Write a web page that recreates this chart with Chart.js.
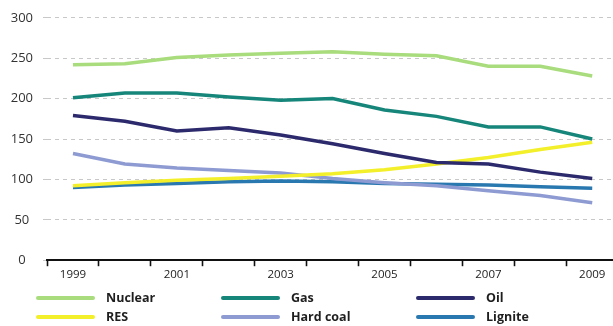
<!DOCTYPE html>
<html>
<head>
<meta charset="utf-8">
<script src="https://cdn.jsdelivr.net/npm/chart.js@4/dist/chart.umd.min.js"></script>
<style>
  html, body { margin: 0; padding: 0; background: #fff; }
  #wrap { width: 613px; height: 326px; position: relative; }
</style>
</head>
<body>
<div id="wrap"><canvas id="c" width="613" height="326"></canvas></div>
<script>
// Electricity generation by source, 1999-2009
const years = [1999, 2000, 2001, 2002, 2003, 2004, 2005, 2006, 2007, 2008, 2009];
const nuclear  = [242, 243, 251, 254, 256, 258, 255, 253, 240, 240, 228];
const gas      = [201, 207, 207, 202, 198, 200, 186, 178, 165, 165, 150];
const oil      = [179, 172, 160, 164, 155, 144, 132, 121, 119, 109, 101];
const res      = [92, 96, 99, 101, 104, 107, 112, 119, 127, 137, 146];
const hardCoal = [132, 119, 114, 111, 108, 101, 96, 92, 86, 80, 71];
const lignite  = [90, 93, 95, 97, 98, 97, 95, 94, 93, 91, 89];

const seriesNames = ['Nuclear', 'Gas', 'Oil', 'RES', 'Hard coal', 'Lignite'];
const seriesValues = [nuclear, gas, oil, res, hardCoal, lignite];
const seriesColors = ['#a9dc7c', '#16857a', '#2c2a6c', '#f3ef2b', '#8e9bd2', '#2a78b0'];

const yTickValues = [0, 50, 100, 150, 200, 250, 300];
const xLabelYears = [1999, 2001, 2003, 2005, 2007, 2009];

const datasets = seriesNames.map((name, i) => ({
  label: name,
  data: years.map((yr, j) => ({ x: yr, y: seriesValues[i][j] })),
  borderColor: seriesColors[i],
  backgroundColor: seriesColors[i],
  borderWidth: 3.5,
  pointRadius: 0,
  tension: 0,
  fill: false
}));

// Two-row legend with aligned columns under the plot
const gridLegend = {
  id: 'gridLegend',
  afterDraw(chart) {
    const ctx = chart.ctx;
    const colX = [38, 223, 418];
    const rowY = [298, 317];
    ctx.save();
    chart.data.datasets.forEach((ds, i) => {
      const col = i % 3, row = Math.floor(i / 3);
      const x = colX[col], y = rowY[row];
      ctx.strokeStyle = ds.borderColor;
      ctx.lineWidth = 4;
      ctx.lineCap = 'round';
      ctx.beginPath();
      ctx.moveTo(x, y);
      ctx.lineTo(x + 55, y);
      ctx.stroke();
      ctx.fillStyle = '#1e1e1e';
      ctx.font = 'bold 12.5px "Open Sans", sans-serif';
      ctx.textBaseline = 'middle';
      ctx.textAlign = 'left';
      ctx.fillText(ds.label, x + 68, y);
    });
    ctx.restore();
  }
};

new Chart(document.getElementById('c'), {
  type: 'line',
  data: { datasets },
  options: {
    responsive: false,
    animation: false,
    devicePixelRatio: 1,
    layout: { padding: { top: 16, left: 0, right: 0, bottom: 42 } },
    plugins: {
      legend: { display: false },
      tooltip: { enabled: false }
    },
    scales: {
      x: {
        type: 'linear',
        min: 1998.5,
        max: 2009.4,
        afterBuildTicks(scale) {
          const t = [];
          for (let v = 1998.5; v <= 2009.01; v += 0.5) t.push({ value: v });
          scale.ticks = t;
        },
        border: { display: true, color: '#111', width: 2 },
        grid: {
          drawOnChartArea: false,
          drawTicks: true,
          tickLength: 6,
          tickWidth: 1.6,
          tickColor: (c) => (c.tick && Number.isInteger(c.tick.value)) ? 'rgba(0,0,0,0)' : '#111'
        },
        ticks: {
          autoSkip: false,
          maxRotation: 0,
          padding: 2,
          color: '#222',
          font: { family: '"Open Sans", sans-serif', size: 11.5 },
          callback: (v) => xLabelYears.includes(v) ? String(v) : ''
        }
      },
      y: {
        min: 0,
        max: 300,
        afterBuildTicks(scale) {
          scale.ticks = yTickValues.map(v => ({ value: v }));
        },
        afterFit(scale) { scale.width = 47; },
        border: { display: false, dash: [4, 4] },
        grid: {
          drawTicks: true,
          tickLength: 4,
          lineWidth: 1,
          color: (c) => (c.tick && c.tick.value === 0) ? 'rgba(0,0,0,0)' : '#c8c8c8',
          tickColor: '#c8c8c8'
        },
        ticks: {
          crossAlign: 'center',
          padding: 10,
          color: '#333',
          font: { family: '"Open Sans", sans-serif', size: 13 }
        }
      }
    }
  },
  plugins: [gridLegend]
});
</script>
</body>
</html>
